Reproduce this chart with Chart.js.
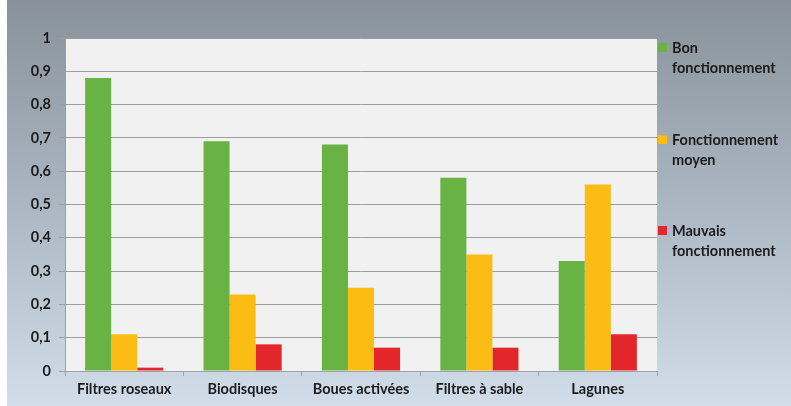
<!DOCTYPE html>
<html><head><meta charset="utf-8">
<script src="https://cdn.jsdelivr.net/npm/chart.js@4/dist/chart.umd.min.js"></script>
<style>html,body{margin:0;padding:0;background:#fff}#wrap{width:791px;height:406px}</style>
</head><body><div id="wrap"><canvas id="c" width="791" height="406"></canvas></div>
<script>
const categories = ["Filtres roseaux", "Biodisques", "Boues activées", "Filtres à sable", "Lagunes"];
const seriesNames = [["Bon", "fonctionnement"], ["Fonctionnement", "moyen"], ["Mauvais", "fonctionnement"]];
const bon = [0.88, 0.69, 0.68, 0.58, 0.33];
const moyen = [0.11, 0.23, 0.25, 0.35, 0.56];
const mauvais = [0.01, 0.08, 0.07, 0.07, 0.11];
const colors = ["#69b244", "#fbbc14", "#e2262a"];
const FONT = "Lato";

const bgPlugin = {
  id: "bg",
  beforeDraw(chart) {
    const ctx = chart.ctx, w = chart.width, h = chart.height;
    ctx.save();
    ctx.fillStyle = "#ffffff";
    ctx.fillRect(0, 0, w, h);
    const g = ctx.createLinearGradient(0, 0, 0, h);
    g.addColorStop(0, "#89929a");
    g.addColorStop(0.5, "#aab6c2");
    g.addColorStop(1, "#d1deea");
    ctx.fillStyle = g;
    ctx.fillRect(7, 0, w - 7, h);
    const a = chart.chartArea;
    ctx.fillStyle = "#f1f1f1";
    ctx.fillRect(a.left, a.top, a.right - a.left, a.bottom - a.top);
    ctx.restore();
  }
};

const legendPlugin = {
  id: "sideLegend",
  afterDraw(chart) {
    const ctx = chart.ctx;
    const x0 = chart.chartArea.right + 1;
    const tops = [43, 135, 226];
    ctx.save();
    ctx.font = "bold 14.5px " + FONT;
    ctx.textBaseline = "middle";
    ctx.textAlign = "left";
    chart.data.datasets.forEach((ds, i) => {
      const t = tops[i];
      ctx.fillStyle = ds.backgroundColor;
      ctx.fillRect(x0, t, 9, 9);
      ctx.fillStyle = "#1b1b1b";
      seriesNames[i].forEach((line, j) => {
        ctx.fillText(line, x0 + 14, t + 5 + j * 20);
      });
    });
    ctx.restore();
  }
};

new Chart(document.getElementById("c"), {
  type: "bar",
  data: {
    labels: categories,
    datasets: [
      { label: seriesNames[0].join(" "), data: bon, backgroundColor: colors[0] },
      { label: seriesNames[1].join(" "), data: moyen, backgroundColor: colors[1] },
      { label: seriesNames[2].join(" "), data: mauvais, backgroundColor: colors[2] }
    ]
  },
  options: {
    responsive: false,
    animation: false,
    devicePixelRatio: 1,
    layout: { padding: { left: 0, right: 134, top: 38, bottom: 0 } },
    datasets: { bar: { categoryPercentage: 0.66, barPercentage: 1.0 } },
    plugins: { legend: { display: false }, tooltip: { enabled: false }, title: { display: false } },
    scales: {
      x: {
        grid: { display: true, drawOnChartArea: false, drawTicks: true, tickLength: 5, color: "#9aa3ab", offset: true },
        border: { display: true, color: "#9aa3ab", width: 1 },
        ticks: { color: "#1b1b1b", font: { family: FONT, size: 14.5, weight: "bold" }, padding: 5, maxRotation: 0 },
        afterFit(s) { s.height = 35; }
      },
      y: {
        min: 0, max: 1,
        grid: { color: "#9e9e9e", lineWidth: 1, tickLength: 6, drawTicks: true },
        border: { display: true, color: "#9e9e9e" },
        ticks: {
          stepSize: 0.1, color: "#1b1b1b", padding: 8,
          font: { family: FONT, size: 14.5, weight: "bold" },
          callback: v => String(Math.round(v * 10) / 10).replace(".", ",")
        },
        afterFit(s) { s.width = 65; }
      }
    }
  },
  plugins: [bgPlugin, legendPlugin]
});
</script></body></html>
